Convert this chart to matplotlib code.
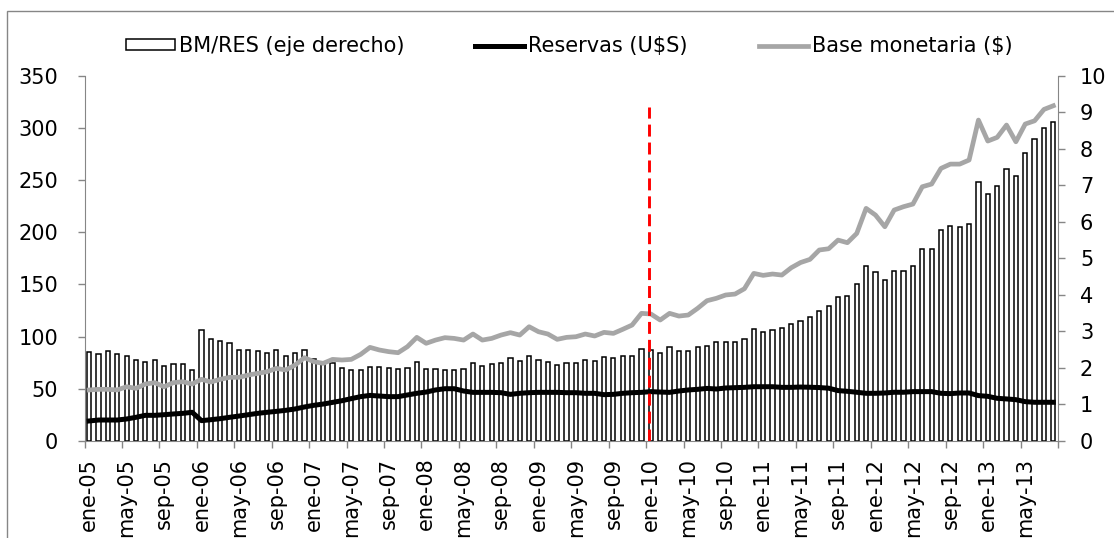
import matplotlib
matplotlib.use('Agg')
import matplotlib.pyplot as plt
from matplotlib.patches import Rectangle, Patch
from matplotlib.lines import Line2D
import numpy as np

# ---- data (monthly, ene-05 .. ago-13) ----
bm_res = [2.45, 2.37, 2.46, 2.38, 2.34, 2.23, 2.17, 2.21, 2.05, 2.10, 2.10, 1.94,
          3.04, 2.78, 2.74, 2.69, 2.48, 2.48, 2.46, 2.40, 2.48, 2.33, 2.40, 2.48,
          2.25, 2.17, 2.13, 1.99, 1.94, 1.94, 2.02, 2.02, 1.99, 1.96, 1.99, 2.15,
          1.97, 1.96, 1.93, 1.93, 1.98, 2.14, 2.04, 2.10, 2.14, 2.28, 2.19, 2.34,
          2.22, 2.16, 2.09, 2.14, 2.14, 2.22, 2.19, 2.31, 2.26, 2.33, 2.34, 2.53,
          2.49, 2.42, 2.56, 2.47, 2.47, 2.56, 2.61, 2.70, 2.71, 2.70, 2.79, 3.06,
          2.99, 3.03, 3.08, 3.21, 3.29, 3.40, 3.57, 3.70, 3.95, 3.98, 4.29, 4.79,
          4.64, 4.41, 4.66, 4.65, 4.79, 5.25, 5.25, 5.77, 5.88, 5.85, 5.93, 7.09,
          6.75, 6.99, 7.45, 7.26, 7.89, 8.28, 8.56, 8.74]

reservas = [19.2, 20.1, 20.1, 20.1, 21.1, 22.7, 24.6, 24.6, 25.2, 25.9, 26.5, 27.5,
            19.5, 20.4, 21.4, 22.7, 23.9, 25.2, 26.5, 27.5, 28.4, 29.4, 30.7, 32.6,
            34.2, 35.4, 37.0, 38.6, 40.6, 42.5, 43.7, 43.1, 42.5, 42.5, 44.1, 45.7,
            46.9, 48.9, 50.1, 50.1, 47.9, 46.6, 46.6, 46.6, 46.3, 44.7, 45.7, 46.3,
            46.6, 46.6, 46.6, 46.3, 46.3, 45.7, 45.7, 44.4, 44.7, 45.7, 46.3, 46.6,
            47.3, 46.9, 46.6, 47.9, 48.9, 49.5, 50.4, 49.8, 50.8, 51.1, 51.4, 52.0,
            52.0, 52.0, 51.4, 51.4, 51.7, 51.5, 51.2, 50.6, 48.3, 47.6, 46.7, 45.7,
            45.7, 46.0, 46.7, 46.7, 47.3, 47.3, 47.3, 45.7, 45.4, 46.0, 46.0, 43.5,
            42.8, 40.9, 40.3, 39.6, 37.7, 37.1, 37.1, 37.1]

base = [48.9, 49.5, 49.5, 48.9, 52.0, 50.4, 54.6, 55.9, 52.0, 55.9, 56.8, 54.6,
        59.1, 56.5, 59.1, 61.0, 61.0, 63.2, 64.8, 66.4, 69.6, 68.0, 72.8, 79.8,
        76.0, 74.4, 78.2, 77.6, 78.2, 83.0, 89.7, 87.2, 85.6, 84.6, 90.4, 99.3,
        93.6, 96.7, 99.0, 98.3, 96.7, 102.5, 96.7, 98.3, 101.5, 103.8, 101.5, 109.5,
        104.7, 102.5, 97.4, 99.3, 99.9, 102.5, 100.6, 104.1, 103.1, 107.0, 111.1, 122.3,
        121.7, 115.9, 122.3, 119.7, 120.7, 127.1, 134.4, 136.7, 139.9, 140.8, 145.9, 160.6,
        158.7, 160.0, 159.0, 166.0, 171.0, 174.0, 183.0, 184.2, 192.5, 190.0, 198.9, 222.9,
        216.5, 205.3, 221.3, 224.5, 227.0, 243.6, 246.2, 261.2, 265.3, 265.3, 269.2, 307.5,
        287.4, 290.9, 302.7, 286.7, 303.7, 306.8, 317.7, 321.2]

tick_labels = ['ene-05', 'may-05', 'sep-05', 'ene-06', 'may-06', 'sep-06', 'ene-07',
               'may-07', 'sep-07', 'ene-08', 'may-08', 'sep-08', 'ene-09', 'may-09',
               'sep-09', 'ene-10', 'may-10', 'sep-10', 'ene-11', 'may-11', 'sep-11',
               'ene-12', 'may-12', 'sep-12', 'ene-13', 'may-13']

left_ticks = [0, 50, 100, 150, 200, 250, 300, 350]
right_ticks = [0, 1, 2, 3, 4, 5, 6, 7, 8, 9, 10]

plt.rcParams['font.family'] = ['DejaVu Sans']
FS = 15
GRAY_AX = '#868686'
TICK_LEN = 5  # points

W, H = 1114, 538
fig = plt.figure(figsize=(W / 100, H / 100), dpi=100)
left_px, right_px, top_px, bot_px = 84.5, 1058, 75.7, 441
ax = fig.add_axes([left_px / W, 1 - bot_px / H, (right_px - left_px) / W, (bot_px - top_px) / H])
ax2 = ax.twinx()

n = len(bm_res)
x = np.arange(n)

ax2.bar(x, bm_res, width=0.45, facecolor='white', edgecolor='black', linewidth=1.1)
ax.plot(x, reservas, color='black', lw=3.6, solid_joinstyle='round')
ax.plot(x, base, color='#A6A6A6', lw=3.4, solid_joinstyle='round')
vpos = tick_labels.index('ene-10') * 4 - 0.24
ax.plot([vpos, vpos], [0, 320], color='red', lw=2.1, ls=(0, (4.1, 2.05)))

ax.set_zorder(ax2.get_zorder() + 1)
ax.patch.set_visible(False)

ax.set_xlim(-0.5, n - 0.5)
ax.set_ylim(0, 350)
ax2.set_ylim(0, 10)
ax.set_yticks(left_ticks)
ax2.set_yticks(right_ticks)

ax.set_xticks(np.arange(-0.5, n, 4))
ax.set_xticklabels([])
ax.set_xticks(np.arange(0, n, 4)[:len(tick_labels)], minor=True)
ax.set_xticklabels(tick_labels, minor=True, rotation=90, fontsize=FS)

ax.xaxis.set_tick_params(which='major', length=TICK_LEN, width=1, color=GRAY_AX, direction='out')
ax.xaxis.set_tick_params(which='minor', length=0, pad=12)
ax.yaxis.set_tick_params(which='major', length=TICK_LEN, width=1, color=GRAY_AX, direction='out',
                         labelsize=FS, pad=14)
ax2.yaxis.set_tick_params(which='major', length=TICK_LEN, width=1, color=GRAY_AX, direction='out',
                          labelsize=FS, pad=10.8)

for s in ['top', 'right']:
    ax.spines[s].set_visible(False)
for s in ['left', 'bottom']:
    ax.spines[s].set_color(GRAY_AX)
for s in ['top', 'left', 'bottom']:
    ax2.spines[s].set_visible(False)
ax2.spines['right'].set_color(GRAY_AX)

# outer frame
fig.patches.append(Rectangle((7 / W, -0.1), 1.2, (1 - 11 / H) + 0.1, transform=fig.transFigure,
                             fill=False, edgecolor=GRAY_AX, lw=1.0))

handles = [Patch(facecolor='white', edgecolor='black', linewidth=1.1),
           Line2D([], [], color='black', lw=3.6),
           Line2D([], [], color='#A6A6A6', lw=3.4)]
labels = ['BM/RES (eje derecho)', 'Reservas (U$S)', 'Base monetaria ($)']
fig.legend(handles, labels, loc='center', bbox_to_anchor=(569 / W, 1 - 46 / H), ncol=3,
           frameon=False, fontsize=FS, handlelength=2.35, handleheight=0.4,
           handletextpad=0.2, columnspacing=3.4, borderpad=0)

fig.savefig('out.png', dpi=100)
